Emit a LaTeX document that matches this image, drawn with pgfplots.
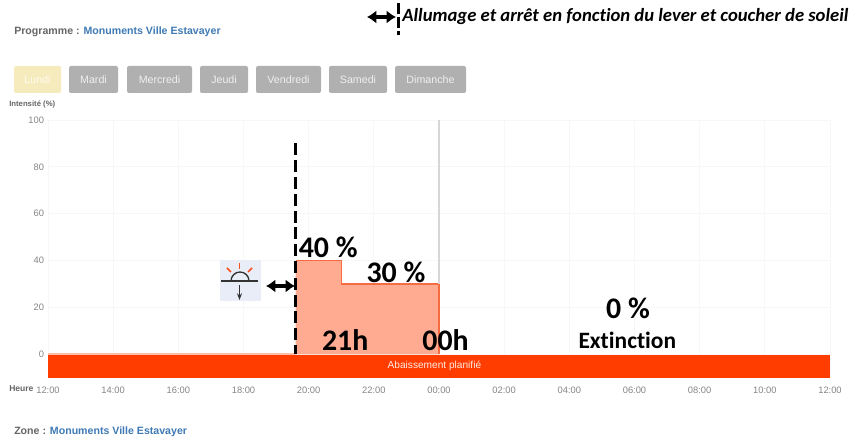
\documentclass[border=0pt]{standalone}
\usepackage{pgfplots}
\pgfplotsset{compat=1.18}
\usepackage{fontspec}
\setmainfont{Liberation Sans}
\newfontfamily\calf[Ligatures=NoCommon]{Carlito}
\usetikzlibrary{arrows.meta}
\definecolor{band}{HTML}{FF3D00}
\definecolor{fillc}{HTML}{FFAB91}
\definecolor{linec}{HTML}{F4511E}
\definecolor{txtg}{HTML}{666666}
\definecolor{tickg}{HTML}{858585}
\definecolor{blu}{HTML}{3F7AB5}
\definecolor{btn}{HTML}{B0B0B0}
\definecolor{btny}{HTML}{F6EBBD}
\definecolor{iconbg}{HTML}{E9EDF8}
\definecolor{gridc}{HTML}{F7F7F7}
\newcommand{\fs}[1]{\fontsize{#1}{#1}\selectfont}
\begin{document}
\begin{tikzpicture}
\useasboundingbox (0pt,0pt) rectangle (650.25pt,330.75pt);
\fill[white] (0pt,0pt) rectangle (650.25pt,330.75pt);
\begin{axis}[
  at={(36pt,46.875pt)}, anchor=south west, scale only axis,
  width=586.5pt, height=193.9pt,
  xmin=0, xmax=24, ymin=-10.3, ymax=100,
  axis line style={draw=none},
  xtick={0,2,...,24},
  xticklabels={12:00,14:00,16:00,18:00,20:00,22:00,00:00,02:00,04:00,06:00,08:00,10:00,12:00},
  ytick={0,20,40,60,80,100},
  major tick length=0pt,
  grid=major, grid style={gridc,line width=0.6pt},
  tick label style={text=tickg,font=\fs{7}},
  /pgf/number format/assume math mode=true,
  xticklabel style={yshift=-2.5pt},
  yticklabel style={xshift=0.5pt},
  clip=false, axis on top=false,
]
\addplot[draw=none,fill=fillc,forget plot] coordinates {(7.6,0)(7.6,40)(9,40)(9,30)(12,30)(12,0)} -- cycle;
\addplot[fillc!80!white,line width=1.6pt,forget plot] coordinates {(0,0)(7.6,0)};
\addplot[linec!85!white,line width=0.9pt,forget plot] coordinates {(7.6,40)(9,40)(9,30)(12,30)(12,0)};
\addplot[black!16,line width=0.9pt,forget plot] coordinates {(12,100)(12,30)};
\addplot[draw=none,fill=band,forget plot] coordinates {(0,-0.4)(24,-0.4)(24,-10.3)(0,-10.3)} -- cycle;
\addplot[black,line width=2.3pt,dash pattern=on 9pt off 3.6pt,forget plot] coordinates {(7.6,90)(7.6,0)};
\node[text=white!90!band,font=\fs{7.6}] at (axis cs:11.86,-5.1) {Abaissement planifié};
\node[font=\calf\bfseries\fs{22.4}] at (axis cs:8.6,45.6) {40 \%};
\node[font=\calf\bfseries\fs{22.4}] at (axis cs:10.68,35) {30 \%};
\node[font=\calf\bfseries\fs{22.4}] at (axis cs:9.12,6) {21h};
\node[font=\calf\bfseries\fs{22.4}] at (axis cs:12.2,6) {00h};
\node[font=\calf\bfseries\fs{22.4}] at (axis cs:17.8,19.5) {0 \%};
\node[font=\calf\bfseries\fs{17.6}] at (axis cs:17.78,6) {Extinction};
\end{axis}
\begin{scope}[x=0.75pt,y=-0.75pt,shift={(0pt,330.75pt)}]
\node[anchor=west,font=\bfseries\fs{7.95},text=txtg,inner sep=0] at (14,32) {Programme : \textcolor{blu}{Monuments Ville Estavayer}};
\node[anchor=west,font=\bfseries\fs{7.95},text=txtg,inner sep=0] at (14,432) {Zone : \textcolor{blu}{Monuments Ville Estavayer}};
\node[anchor=west,font=\calf\bfseries\itshape\fs{14},inner sep=0] at (402,17) {Allumage et arrêt en fonction du lever et coucher de soleil};
\draw[black,line width=2.2pt,dash pattern=on 8pt off 2.5pt] (398.5,3) -- (398.5,35);
\draw[black,line width=3pt,{Latex[length=7pt,width=10pt]}-{Latex[length=7pt,width=10pt]}] (367,17) -- (396,17);
\foreach \a/\b/\c/\t in {14/61/btny/Lundi,69/118/btn/Mardi,127/192/btn/Mercredi,200/248/btn/Jeudi,256/321/btn/Vendredi,329/387/btn/Samedi,395/466/btn/Dimanche}{
  \fill[\c,rounded corners=1.5pt] (\a,66) rectangle (\b,93);
  \node[text=white!80!\c,font=\fs{8}] at ({(\a+\b)/2},79.5) {\t};
}
\node[anchor=west,font=\bfseries\fs{5.8},text=txtg,inner sep=0] at (9,104) {Intensité (\%)};
\node[anchor=west,font=\bfseries\fs{6.4},text=txtg,inner sep=0] at (9,388.5) {Heure};
\fill[iconbg] (220,260) rectangle (261,301);
\draw[black!80,line width=1pt] (221,281) -- (258,281);
\draw[black!80,line width=1pt] (231,281) arc[start angle=180,end angle=0,x radius=9,y radius=-9];
\draw[black!80,line width=1pt,-{Stealth[length=5pt]}] (239.5,285) -- (239.5,300);
\draw[linec,line width=1.1pt] (239.5,263) -- (239.5,269);
\draw[linec,line width=1.1pt] (227,268) -- (231,272);
\draw[linec,line width=1.1pt] (252,268) -- (248,272);
\draw[black,line width=3pt,{Latex[length=7pt,width=10pt]}-{Latex[length=7pt,width=10pt]}] (266,286) -- (295,286);
\end{scope}
\end{tikzpicture}
\end{document}
